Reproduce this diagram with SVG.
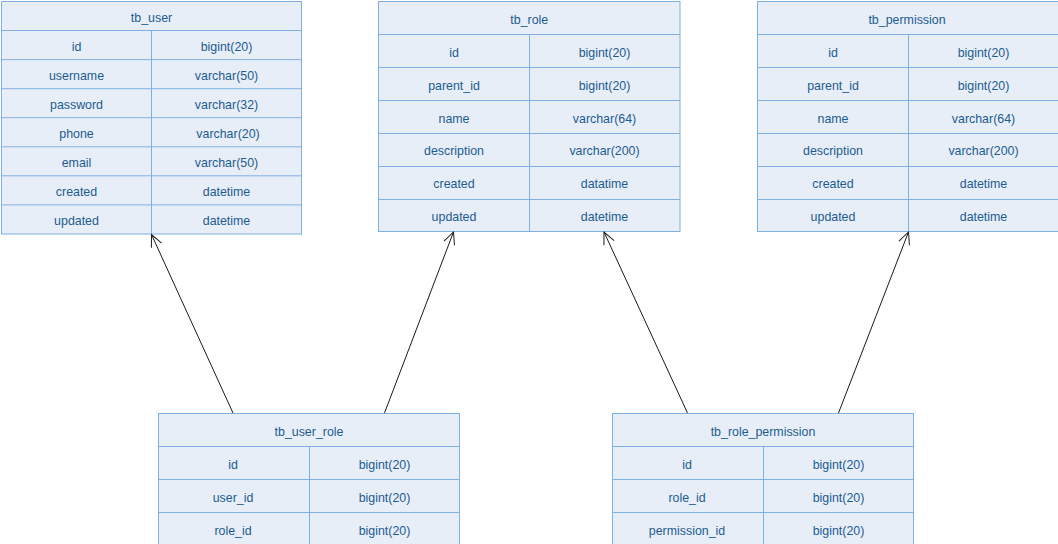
<svg xmlns="http://www.w3.org/2000/svg" width="1058" height="544" viewBox="0 0 1058 544">
<style>
.tb rect{fill:#E8EEF8;stroke:#7FB0E4;stroke-width:1}
.tb line{stroke:#7FB0E4;stroke-width:1}
.tb text{font-family:"Liberation Sans",Arial,sans-serif;font-size:12.4px;fill:#1B5C90;text-anchor:middle}
.conn line{stroke:#1a1a1a;stroke-width:1;fill:none}
</style>
<defs>
<marker id="arr" markerUnits="userSpaceOnUse" viewBox="-14 -8 16 16" refX="0" refY="0" markerWidth="16" markerHeight="16" orient="auto">
<path d="M-12,-5.6 L0,0 L-12,5.6" fill="none" stroke="#1a1a1a" stroke-width="1"/>
</marker>
</defs>
<rect width="1058" height="544" fill="#ffffff"/>

<g id="tb_user" class="tb">
<rect x="1.5" y="1.5" width="300" height="232.5"/>
<line x1="1.5" y1="30.5" x2="301.5" y2="30.5"/>
<line x1="1.5" y1="59.6" x2="301.5" y2="59.6"/>
<line x1="1.5" y1="88.7" x2="301.5" y2="88.7"/>
<line x1="1.5" y1="117.7" x2="301.5" y2="117.7"/>
<line x1="1.5" y1="146.8" x2="301.5" y2="146.8"/>
<line x1="1.5" y1="175.8" x2="301.5" y2="175.8"/>
<line x1="1.5" y1="204.9" x2="301.5" y2="204.9"/>
<line x1="151.5" y1="30.5" x2="151.5" y2="234"/>
<text x="151.5" y="22">tb_user</text>
<text x="76.5" y="51">id</text><text x="226.5" y="51">bigint(20)</text>
<text x="76.5" y="80">username</text><text x="226.5" y="80">varchar(50)</text>
<text x="76.5" y="109">password</text><text x="226.5" y="109">varchar(32)</text>
<text x="76.5" y="138.2">phone</text><text x="228" y="138.2">varchar(20)</text>
<text x="76.5" y="167.2">email</text><text x="226.5" y="167.2">varchar(50)</text>
<text x="76.5" y="196.3">created</text><text x="226.5" y="196.3">datetime</text>
<text x="76.5" y="225.3">updated</text><text x="226.5" y="225.3">datetime</text>
</g>

<g id="tb_role" class="tb">
<rect x="378.5" y="1.5" width="301.5" height="230"/>
<line x1="378.5" y1="34.5" x2="680" y2="34.5"/>
<line x1="378.5" y1="67.5" x2="680" y2="67.5"/>
<line x1="378.5" y1="100.5" x2="680" y2="100.5"/>
<line x1="378.5" y1="133.5" x2="680" y2="133.5"/>
<line x1="378.5" y1="166.5" x2="680" y2="166.5"/>
<line x1="378.5" y1="199.5" x2="680" y2="199.5"/>
<line x1="529.5" y1="34.5" x2="529.5" y2="231.5"/>
<text x="529.3" y="24">tb_role</text>
<text x="454" y="56.5">id</text><text x="604.5" y="56.5">bigint(20)</text>
<text x="454" y="89.5">parent_id</text><text x="604.5" y="89.5">bigint(20)</text>
<text x="454" y="122.5">name</text><text x="604.5" y="122.5">varchar(64)</text>
<text x="454" y="155">description</text><text x="604.5" y="155">varchar(200)</text>
<text x="454" y="188">created</text><text x="604.5" y="188">datatime</text>
<text x="454" y="221">updated</text><text x="604.5" y="221">datetime</text>
</g>

<g id="tb_permission" class="tb">
<rect x="757.5" y="1.5" width="302" height="230"/>
<line x1="757.5" y1="34.5" x2="1059.5" y2="34.5"/>
<line x1="757.5" y1="67.5" x2="1059.5" y2="67.5"/>
<line x1="757.5" y1="100.5" x2="1059.5" y2="100.5"/>
<line x1="757.5" y1="133.5" x2="1059.5" y2="133.5"/>
<line x1="757.5" y1="166.5" x2="1059.5" y2="166.5"/>
<line x1="757.5" y1="199.5" x2="1059.5" y2="199.5"/>
<line x1="908.5" y1="34.5" x2="908.5" y2="231.5"/>
<text x="907" y="24">tb_permission</text>
<text x="833" y="56.5">id</text><text x="983.5" y="56.5">bigint(20)</text>
<text x="833" y="89.5">parent_id</text><text x="983.5" y="89.5">bigint(20)</text>
<text x="833" y="122.5">name</text><text x="983.5" y="122.5">varchar(64)</text>
<text x="833" y="155">description</text><text x="983.5" y="155">varchar(200)</text>
<text x="833" y="188">created</text><text x="983.5" y="188">datetime</text>
<text x="833" y="221">updated</text><text x="983.5" y="221">datetime</text>
</g>

<g id="tb_user_role" class="tb">
<rect x="158.5" y="413.5" width="301" height="140"/>
<line x1="158.5" y1="446.5" x2="459.5" y2="446.5"/>
<line x1="158.5" y1="479.5" x2="459.5" y2="479.5"/>
<line x1="158.5" y1="512.5" x2="459.5" y2="512.5"/>
<line x1="309.5" y1="446.5" x2="309.5" y2="553.5"/>
<text x="309" y="436">tb_user_role</text>
<text x="233" y="468.5">id</text><text x="384.5" y="468.5">bigint(20)</text>
<text x="233" y="501.5">user_id</text><text x="384.5" y="501.5">bigint(20)</text>
<text x="233" y="534.5">role_id</text><text x="384.5" y="534.5">bigint(20)</text>
</g>

<g id="tb_role_permission" class="tb">
<rect x="612.5" y="413.5" width="301" height="140"/>
<line x1="612.5" y1="446.5" x2="913.5" y2="446.5"/>
<line x1="612.5" y1="479.5" x2="913.5" y2="479.5"/>
<line x1="612.5" y1="512.5" x2="913.5" y2="512.5"/>
<line x1="763.5" y1="446.5" x2="763.5" y2="553.5"/>
<text x="763" y="436">tb_role_permission</text>
<text x="687" y="468.5">id</text><text x="838.5" y="468.5">bigint(20)</text>
<text x="687" y="501.5">role_id</text><text x="838.5" y="501.5">bigint(20)</text>
<text x="687" y="534.5">permission_id</text><text x="838.5" y="534.5">bigint(20)</text>
</g>

<g id="connectors" class="conn">
<line x1="233" y1="413" x2="151.5" y2="234.5" marker-end="url(#arr)"/>
<line x1="384.5" y1="413" x2="453.5" y2="232" marker-end="url(#arr)"/>
<line x1="687.5" y1="413" x2="604" y2="232" marker-end="url(#arr)"/>
<line x1="838.5" y1="413" x2="908.5" y2="232" marker-end="url(#arr)"/>
</g>
</svg>
